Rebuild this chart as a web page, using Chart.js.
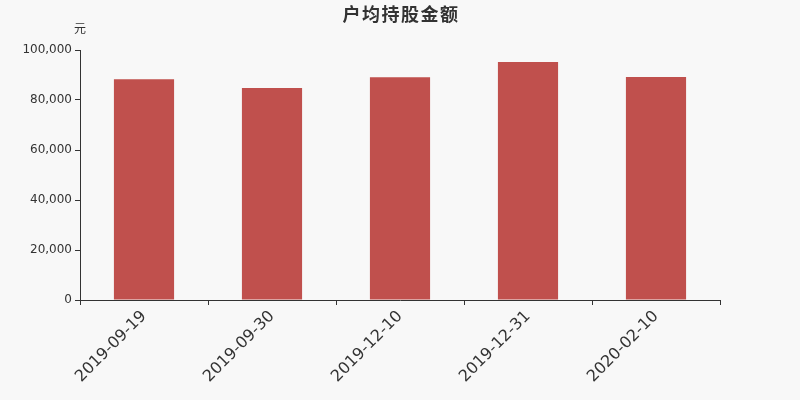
<!DOCTYPE html>
<html><head><meta charset="utf-8">
<script src="https://cdn.jsdelivr.net/npm/chart.js@4/dist/chart.umd.min.js"></script>
<style>html,body{margin:0;padding:0;background:#f8f8f8;}#wrap{width:800px;height:400px;}</style>
</head><body><div id="wrap"><canvas id="c" width="800" height="400"></canvas></div>
<script>
const categories = ['2019-09-19','2019-09-30','2019-12-10','2019-12-31','2020-02-10'];
const values = [88300, 84800, 89100, 95200, 89200];
const titleText = '户均持股金额';
const unitText = '元';

const textPlugin = {
  id: 'texts',
  afterDraw(chart) {
    const ctx = chart.ctx;
    ctx.save();
    ctx.fillStyle = '#333';
    ctx.textAlign = 'center';
    ctx.textBaseline = 'middle';
    ctx.font = 'bold 18px "Noto Sans CJK SC", sans-serif';
    try { ctx.letterSpacing = '1.5px'; } catch (e) {}
    ctx.fillText(titleText, (chart.chartArea.left + chart.chartArea.right) / 2 + 1, 14);
    try { ctx.letterSpacing = '0px'; } catch (e) {}
    ctx.font = '12px "Noto Sans CJK SC", sans-serif';
    ctx.fillText(unitText, chart.chartArea.left, 28);
    ctx.restore();
  }
};
const bgPlugin = {
  id: 'bg',
  beforeDraw(chart) {
    const ctx = chart.ctx;
    ctx.save(); ctx.fillStyle = '#f8f8f8'; ctx.fillRect(0, 0, chart.width, chart.height); ctx.restore();
  }
};

new Chart(document.getElementById('c'), {
  type: 'bar',
  data: { labels: categories, datasets: [{ data: values, backgroundColor: '#c0504d', categoryPercentage: 0.47, barPercentage: 1 }] },
  options: {
    responsive: false, animation: false, devicePixelRatio: 1,
    layout: { padding: { top: 50, right: 80, left: 0, bottom: 0 } },
    plugins: { legend: { display: false }, tooltip: { enabled: false } },
    scales: {
      x: {
        afterFit(s) { s.height = 100; },
        border: { display: true, color: '#333', width: 1 },
        grid: { display: true, drawOnChartArea: false, drawTicks: true, tickLength: 5, color: '#333', offset: true },
        ticks: { color: '#333', font: { family: 'DejaVu Sans', size: 16 }, maxRotation: 45, minRotation: 45, padding: 2 }
      },
      y: {
        min: 0, max: 100000,
        afterFit(s) { s.width = 80; },
        border: { display: true, color: '#333', width: 1 },
        grid: { display: true, drawOnChartArea: false, drawTicks: true, tickLength: 5, color: '#333' },
        ticks: { stepSize: 20000, color: '#333', font: { family: 'DejaVu Sans', size: 12 }, padding: 3,
          callback: v => v.toLocaleString('en-US') }
      }
    }
  },
  plugins: [bgPlugin, textPlugin]
});
</script></body></html>
